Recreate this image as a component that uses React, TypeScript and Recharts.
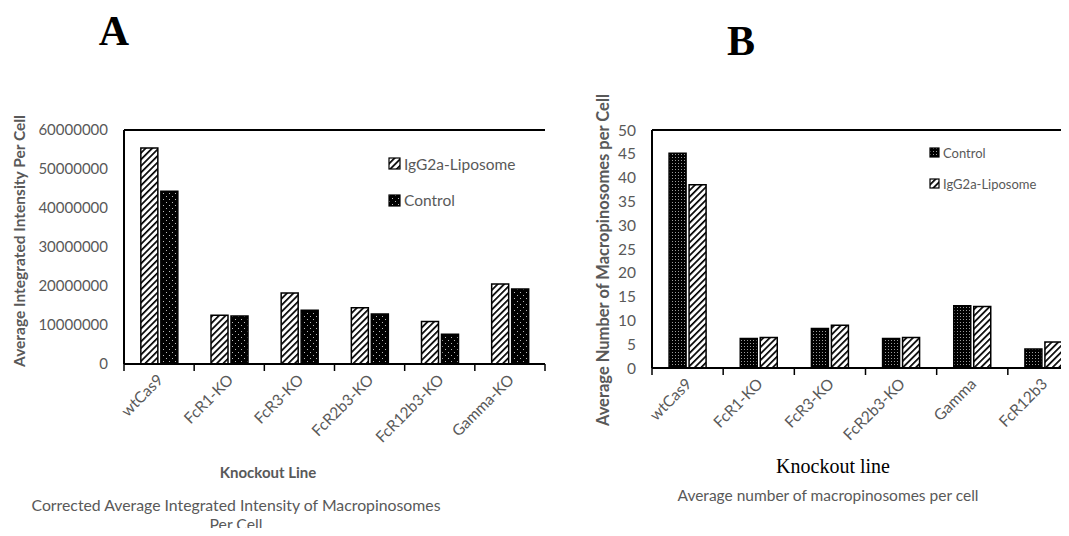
import React from 'react';
import { BarChart, Bar, XAxis, YAxis, ReferenceLine } from 'recharts';

// panel A
const linesA = ['wtCas9', 'FcR1-KO', 'FcR3-KO', 'FcR2b3-KO', 'FcR12b3-KO', 'Gamma-KO'];
const liposomeA = [55400000, 12500000, 18200000, 14400000, 10900000, 20500000];
const controlA = [44300000, 12300000, 13800000, 12800000, 7600000, 19200000];
const ticksA = [0, 10000000, 20000000, 30000000, 40000000, 50000000, 60000000];

// panel B
const linesB = ['wtCas9', 'FcR1-KO', 'FcR3-KO', 'FcR2b3-KO', 'Gamma', 'FcR12b3'];
const controlB = [45.1, 6.2, 8.3, 6.2, 13.1, 4.0];
const liposomeB = [38.5, 6.4, 9.0, 6.4, 12.9, 5.45];
const ticksB = [0, 5, 10, 15, 20, 25, 30, 35, 40, 45, 50];

const dataA = linesA.map((line, i) => ({ line, liposome: liposomeA[i], control: controlA[i] }));
const dataB = linesB.map((line, i) => ({ line, control: controlB[i], liposome: liposomeB[i] }));

const FONT = 'Lato, "Open Sans", sans-serif';
const SERIF = '"Liberation Serif", "Times New Roman", serif';
const GREY = '#595959';

const CategoryTick = (props: any) => {
  const { x, y, payload, index, band, count } = props;
  return (
    <g>
      <line x1={x - band / 2} x2={x - band / 2} y1={y} y2={y + 7} stroke="#000" strokeWidth={1.5} />
      {index === count - 1 && (
        <line x1={x + band / 2} x2={x + band / 2} y1={y} y2={y + 7} stroke="#000" strokeWidth={1.5} />
      )}
      <text
        transform={`translate(${x + 5},${y + 17}) rotate(-45)`}
        textAnchor="end"
        fill={GREY}
        fontSize={15.5}
        fontFamily={FONT}
      >
        {payload.value}
      </text>
    </g>
  );
};

const Patterns = () => (
  <svg width={0} height={0} style={{ position: 'absolute' }}>
    <defs>
      <pattern id="hatch" patternUnits="userSpaceOnUse" width={4.6} height={4.6} patternTransform="rotate(45)">
        <rect width={4.6} height={4.6} fill="#fff" />
        <rect width={1.7} height={4.6} fill="#000" />
      </pattern>
      <pattern id="dotsA" patternUnits="userSpaceOnUse" width={6} height={6}>
        <rect width={6} height={6} fill="#000" />
        <rect x={1} y={1} width={1} height={1} fill="#bbb" />
        <rect x={4} y={4} width={1} height={1} fill="#bbb" />
      </pattern>
      <pattern id="dotsB" patternUnits="userSpaceOnUse" width={3} height={3}>
        <rect width={3} height={3} fill="#000" />
        <rect x={1} y={1} width={1} height={1} fill="#9a9a9a" />
      </pattern>
    </defs>
  </svg>
);

const LegendItem = ({ fill, label, size, fontSize }: any) => (
  <div style={{ display: 'flex', alignItems: 'center', whiteSpace: 'nowrap', height: fontSize + 4 }}>
    <svg width={size + 2} height={size + 2} style={{ marginRight: 3 }}>
      <rect x={1} y={1} width={size} height={size} fill={fill} stroke="#000" strokeWidth={1.2} />
    </svg>
    <span style={{ fontFamily: FONT, fontSize, color: GREY }}>{label}</span>
  </div>
);

// plot geometry
const A = { left: 124, right: 545, top: 130, bottom: 364, width: 560 };
const B = { x: 560, left: 652, right: 1079, top: 130, bottom: 368, width: 540 };
const bandA = (A.right - A.left) / linesA.length;
const bandB = (B.right - B.left) / linesB.length;

export default function App() {
  return (
    <div
      style={{
        position: 'relative',
        width: 1069,
        height: 536,
        margin: -8,
        overflow: 'hidden',
        background: '#fff',
      }}
    >
      <Patterns />

      {/* panel A */}
      <div style={{ position: 'absolute', left: 0, top: 0 }}>
        <BarChart
          width={A.width}
          height={536}
          data={dataA}
          margin={{ top: A.top, right: A.width - A.right, bottom: 0, left: A.left - 70 }}
          barCategoryGap="24%"
          barGap={3}
        >
          <XAxis
            dataKey="line"
            height={536 - A.bottom}
            tickSize={0}
            tickMargin={0}
            interval={0}
            axisLine={{ stroke: '#000', strokeWidth: 2 }}
            tickLine={false}
            tick={<CategoryTick band={bandA} count={linesA.length} />}
          />
          <YAxis
            width={70}
            domain={[0, 60000000]}
            ticks={ticksA}
            tickSize={0}
            tickMargin={16}
            tickLine={false}
            axisLine={{ stroke: '#000', strokeWidth: 2 }}
            tick={{ fill: GREY, fontSize: 15, fontFamily: FONT }}
          />
          <ReferenceLine y={60000000} stroke="#000" strokeWidth={2} />
          <Bar dataKey="liposome" fill="url(#hatch)" stroke="#000" strokeWidth={1.5} isAnimationActive={false} />
          <Bar dataKey="control" fill="url(#dotsA)" stroke="#000" strokeWidth={1.5} isAnimationActive={false} />
        </BarChart>
      </div>

      {/* panel B */}
      <div style={{ position: 'absolute', left: B.x, top: 0 }}>
        <BarChart
          width={B.width}
          height={536}
          data={dataB}
          margin={{ top: B.top, right: B.x + B.width - B.right, bottom: 0, left: B.left - B.x - 40 }}
          barCategoryGap="24%"
          barGap={3}
        >
          <XAxis
            dataKey="line"
            height={536 - B.bottom}
            tickSize={0}
            tickMargin={0}
            interval={0}
            axisLine={{ stroke: '#000', strokeWidth: 2 }}
            tickLine={false}
            tick={<CategoryTick band={bandB} count={linesB.length} />}
          />
          <YAxis
            width={40}
            domain={[0, 50]}
            ticks={ticksB}
            tickSize={0}
            tickMargin={16}
            tickLine={false}
            axisLine={{ stroke: '#000', strokeWidth: 2 }}
            tick={{ fill: GREY, fontSize: 15.5, fontFamily: FONT }}
          />
          <ReferenceLine y={50} stroke="#000" strokeWidth={2} />
          <Bar dataKey="control" fill="url(#dotsB)" stroke="#000" strokeWidth={1.5} isAnimationActive={false} />
          <Bar dataKey="liposome" fill="url(#hatch)" stroke="#000" strokeWidth={1.5} isAnimationActive={false} />
        </BarChart>
      </div>

      {/* legends */}
      <div style={{ position: 'absolute', left: 388, top: 154, display: 'flex', flexDirection: 'column', gap: 17 }}>
        <LegendItem fill="url(#hatch)" label="IgG2a-Liposome" size={11} fontSize={15.5} />
        <LegendItem fill="url(#dotsA)" label="Control" size={11} fontSize={15.5} />
      </div>
      <div style={{ position: 'absolute', left: 929, top: 144, display: 'flex', flexDirection: 'column', gap: 14 }}>
        <LegendItem fill="url(#dotsB)" label="Control" size={9} fontSize={13} />
        <LegendItem fill="url(#hatch)" label="IgG2a-Liposome" size={9} fontSize={13} />
      </div>

      {/* titles and captions */}
      <svg width={1069} height={536} style={{ position: 'absolute', left: 0, top: 0, pointerEvents: 'none' }}>
        <text x={114} y={45} textAnchor="middle" fontFamily={SERIF} fontWeight="bold" fontSize={42}>A</text>
        <text x={741} y={55} textAnchor="middle" fontFamily={SERIF} fontWeight="bold" fontSize={42}>B</text>
        <text
          transform="translate(25,241) rotate(-90)"
          textAnchor="middle"
          fontFamily={FONT}
          fontWeight="bold"
          fontSize={15.5}
          fill={GREY}
        >
          Average Integrated Intensity Per Cell
        </text>
        <text
          transform="translate(609,260) rotate(-90)"
          textAnchor="middle"
          fontFamily={FONT}
          fontWeight="bold"
          fontSize={16.5}
          fill={GREY}
        >
          Average Number of Macropinosomes per Cell
        </text>
        <text x={268} y={478} textAnchor="middle" fontFamily={FONT} fontWeight="bold" fontSize={15} fill={GREY}>
          Knockout Line
        </text>
        <text x={236} y={511} textAnchor="middle" fontFamily={FONT} fontSize={15.8} fill={GREY}>
          Corrected Average Integrated Intensity of Macropinosomes
        </text>
        <text x={236} y={530} textAnchor="middle" fontFamily={FONT} fontSize={15.8} fill={GREY}>
          Per Cell
        </text>
        <text x={833} y={473} textAnchor="middle" fontFamily={SERIF} fontSize={20} fill="#000">
          Knockout line
        </text>
        <text x={828} y={501} textAnchor="middle" fontFamily={FONT} fontSize={15.5} fill={GREY}>
          Average number of macropinosomes per cell
        </text>
      </svg>
    </div>
  );
}
